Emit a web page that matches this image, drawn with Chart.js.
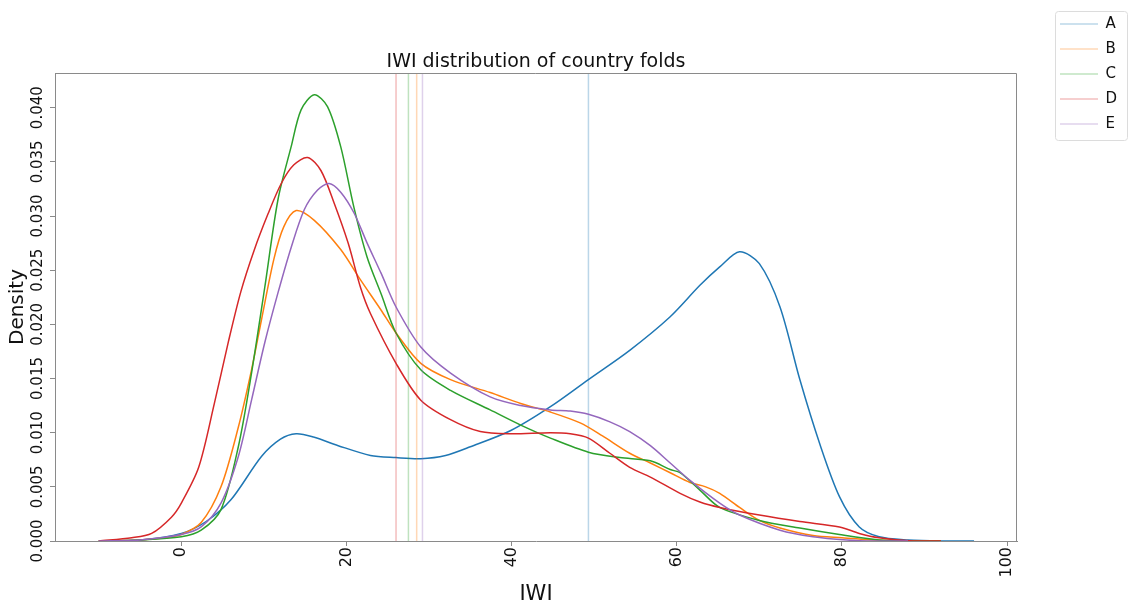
<!DOCTYPE html>
<html>
<head>
<meta charset="utf-8">
<title>IWI distribution of country folds</title>
<script src="https://cdn.jsdelivr.net/npm/chart.js@4.4.1/dist/chart.umd.min.js"></script>
<style>
  html, body { margin: 0; padding: 0; background: #fff; }
  canvas { display: block; }
</style>
</head>
<body>
<canvas id="kde" width="1129" height="605"></canvas>
<script>
// fold names + matplotlib tab10 colours
const foldNames = ["A", "B", "C", "D", "E"];
const foldColors = ["#1f77b4", "#ff7f0e", "#2ca02c", "#d62728", "#9467bd"];

// KDE curves (x = IWI, y = density)
const aX = [-10, -5, 0, 3, 6, 9.7, 12, 13.9, 16, 19, 22.9, 26, 29, 32, 35, 39.9, 44.7, 49.3, 54.3, 59.2, 62.8, 65.2, 67.6, 70, 72.5, 74.9, 77.3, 79.7, 82.1, 84.5, 88, 92, 96];
const aY = [0, 0.0001, 0.0007, 0.0018, 0.0038, 0.0078, 0.0094, 0.0099, 0.0096, 0.0088, 0.0079, 0.0077, 0.0076, 0.0079, 0.0087, 0.0102, 0.0124, 0.0149, 0.0176, 0.0207, 0.0236, 0.0253, 0.0267, 0.0256, 0.0216, 0.0149, 0.0090, 0.0041, 0.0013, 0.0004, 0.0001, 0, 0];

const bX = [-10, -5, -2, 0, 2.4, 4.8, 6.9, 8.5, 9.7, 11.2, 12.4, 13.9, 16.1, 19.3, 21.7, 24.2, 26, 29, 32.6, 37.4, 41.1, 44.7, 48.3, 51, 54.3, 56.8, 59.2, 61.6, 63.5, 65.2, 67.6, 70, 72.5, 76.5, 80, 84, 88, 92];
const bY = [0, 0.0001, 0.0003, 0.0006, 0.0017, 0.0050, 0.0105, 0.0158, 0.0204, 0.0260, 0.0290, 0.0305, 0.0296, 0.0269, 0.0241, 0.0213, 0.0192, 0.0164, 0.0149, 0.0137, 0.0127, 0.0119, 0.0109, 0.0097, 0.0081, 0.0072, 0.0063, 0.0054, 0.0050, 0.0044, 0.0031, 0.0019, 0.0012, 0.0005, 0.0003, 0.0001, 0, 0];

const cX = [-10, -5, 0, 2.4, 4.8, 6.9, 8.5, 10.1, 11.7, 13.3, 14.5, 16.1, 17.7, 19.3, 20.9, 22.5, 24.2, 26, 29, 32.6, 37.4, 41.1, 44.7, 49.3, 53.1, 56.8, 59.2, 60.4, 62.8, 65.2, 70, 74.9, 79.7, 84.5, 88, 92];
const cY = [0, 0.0001, 0.0004, 0.0010, 0.0029, 0.0087, 0.0155, 0.0234, 0.0315, 0.0364, 0.0398, 0.0412, 0.0401, 0.0364, 0.0308, 0.0262, 0.0228, 0.0192, 0.0158, 0.0139, 0.0121, 0.0107, 0.0095, 0.0082, 0.0077, 0.0074, 0.0066, 0.0063, 0.0047, 0.0031, 0.0019, 0.0012, 0.0006, 0.0001, 0, 0];

const dX = [-10, -6, -3.6, -1.2, 0, 2.1, 4.0, 5.7, 7.2, 8.8, 10.5, 12.1, 13.6, 15.3, 16.9, 18.5, 20.2, 21.7, 22.9, 26, 29, 32.6, 36.2, 39.9, 44.7, 47.1, 49.3, 51.9, 54.3, 56.8, 60.4, 62.8, 65.2, 70, 74.9, 79.7, 82.1, 84.5, 88.6, 92];
const dY = [0, 0.0003, 0.0007, 0.0022, 0.0035, 0.0068, 0.0127, 0.0184, 0.0230, 0.0268, 0.0302, 0.0330, 0.0347, 0.0354, 0.0342, 0.0312, 0.0275, 0.0234, 0.0210, 0.0164, 0.0130, 0.0112, 0.0101, 0.0099, 0.0100, 0.0099, 0.0095, 0.0081, 0.0068, 0.0059, 0.0044, 0.0036, 0.0031, 0.0024, 0.0018, 0.0013, 0.0007, 0.0003, 0, 0];

const eX = [-10, -5, 0, 2.4, 4.8, 6.9, 8.5, 10.1, 11.7, 13.3, 14.9, 16.5, 17.9, 19.3, 20.9, 22.5, 24.2, 26, 29, 32.6, 37.4, 41.1, 44.7, 47.1, 49.3, 51.9, 54.3, 56.8, 59.2, 61.6, 65.2, 67.6, 72.5, 76.5, 80.6, 84, 88];
const eY = [0, 0.0001, 0.0006, 0.0013, 0.0035, 0.0078, 0.0130, 0.0183, 0.0229, 0.0271, 0.0306, 0.0324, 0.0330, 0.0322, 0.0303, 0.0275, 0.0247, 0.0216, 0.0179, 0.0155, 0.0133, 0.0125, 0.0121, 0.0120, 0.0117, 0.0110, 0.0101, 0.0088, 0.0072, 0.0056, 0.0035, 0.0024, 0.0010, 0.0004, 0.0001, 0, 0];

// mean IWI per fold (the faint vertical lines)
const foldMeans = [49.3, 28.5, 27.5, 26.0, 29.2];

const xTicks = [0, 20, 40, 60, 80, 100];
const yTicks = [0, 0.005, 0.010, 0.015, 0.020, 0.025, 0.030, 0.035, 0.040];
const xRange = [-15.3, 101.2];
const yRange = [0, 0.0432];

const curveX = [aX, bX, cX, dX, eX];
const curveY = [aY, bY, cY, dY, eY];

function toPoints(xs, ys) {
    return xs.map((x, i) => ({ x: x, y: ys[i] }));
}

function fade(hex, a) {
    const n = parseInt(hex.slice(1), 16);
    return `rgba(${(n >> 16) & 255}, ${(n >> 8) & 255}, ${n & 255}, ${a})`;
}

const datasets = [];
foldNames.forEach((name, i) => {
    datasets.push({
        label: name + " kde",
        data: toPoints(curveX[i], curveY[i]),
        borderColor: foldColors[i],
        borderWidth: 1.5,
        showLine: true,
        pointRadius: 0,
        tension: 0.3,
        order: 20 - 2 * i
    });
    datasets.push({
        label: name,
        data: [{ x: foldMeans[i], y: yRange[0] }, { x: foldMeans[i], y: yRange[1] }],
        borderColor: fade(foldColors[i], 0.3),
        borderWidth: 1.5,
        showLine: true,
        pointRadius: 0,
        isMean: true,
        order: 19 - 2 * i
    });
});

// box round the plot (top + right spines)
const framePlugin = {
    id: "frame",
    afterDatasetsDraw(chart) {
        const { ctx, chartArea: a } = chart;
        ctx.save();
        ctx.strokeStyle = "#8a8a8a";
        ctx.lineWidth = 1;
        ctx.beginPath();
        ctx.moveTo(Math.round(a.left), Math.round(a.top) + 0.5);
        ctx.lineTo(Math.round(a.right) - 0.5, Math.round(a.top) + 0.5);
        ctx.lineTo(Math.round(a.right) - 0.5, Math.round(a.bottom));
        ctx.stroke();
        ctx.restore();
    }
};

// legend sits outside the axes, top right, with a light frame
const legendRoom = 112;
const legendPlugin = {
    id: "legendPlace",
    afterInit(chart) {
        const lg = chart.legend;
        const fit = lg.fit.bind(lg);
        lg.fit = function () { fit(); this.width = legendRoom; };
    },
    afterLayout(chart) {
        const lg = chart.legend;
        lg.left += 33; lg.right += 33;
        lg.top += 6.5; lg.bottom += 6.5;
    },
    afterDraw(chart) {
        const hb = chart.legend.legendHitBoxes;
        if (!hb || !hb.length) return;
        const first = hb[0], last = hb[hb.length - 1];
        const x0 = Math.round(first.left - 5) + 0.5;
        const y0 = Math.round(first.top - 5.5) + 0.5;
        const y1 = Math.round(last.top + last.height + 8.5) + 0.5;
        const ctx = chart.ctx;
        ctx.save();
        ctx.strokeStyle = "#dcdcdc";
        ctx.lineWidth = 1;
        ctx.beginPath();
        ctx.roundRect(x0, y0, chart.width - 1.5 - x0, y1 - y0, 3);
        ctx.stroke();
        ctx.restore();
    }
};

Chart.defaults.font.family = "'DejaVu Sans', sans-serif";
Chart.defaults.color = "#1a1a1a";

new Chart(document.getElementById("kde"), {
    type: "scatter",
    data: { datasets },
    options: {
        responsive: false,
        animation: false,
        layout: { padding: 0 },
        plugins: {
            title: {
                display: true,
                text: "IWI distribution of country folds",
                fullSize: false,
                color: "#111",
                font: { size: 19, weight: "normal", lineHeight: 1 },
                padding: { top: 52.5, bottom: 1.5 }
            },
            legend: {
                position: "right",
                align: "start",
                labels: {
                    filter: (item, data) => !!data.datasets[item.datasetIndex].isMean,
                    sort: (a, b) => a.datasetIndex - b.datasetIndex,
                    usePointStyle: true,
                    pointStyle: "line",
                    pointStyleWidth: 38,
                    padding: 10,
                    color: "#111",
                    font: { size: 15 }
                }
            },
            tooltip: { enabled: false }
        },
        scales: {
            x: {
                type: "linear",
                min: xRange[0],
                max: xRange[1],
                afterBuildTicks: s => { s.ticks = xTicks.map(v => ({ value: v })); },
                ticks: { minRotation: 90, maxRotation: 90, padding: 1, color: "#111", font: { size: 16 } },
                grid: { drawOnChartArea: false, tickLength: 5, color: "#8a8a8a" },
                border: { color: "#8a8a8a" },
                title: { display: true, text: "IWI", color: "#111", font: { size: 21, lineHeight: 1 }, padding: 0 },
                afterFit: s => { s.height = 64; }
            },
            y: {
                type: "linear",
                min: yRange[0],
                max: yRange[1],
                afterBuildTicks: s => { s.ticks = yTicks.map(v => ({ value: v })); },
                ticks: {
                    minRotation: 90, maxRotation: 90, crossAlign: "center", padding: -9.5,
                    color: "#111", font: { size: 15 },
                    callback: v => v.toFixed(3)
                },
                grid: { drawOnChartArea: false, tickLength: 5, color: "#8a8a8a" },
                border: { color: "#8a8a8a" },
                title: { display: true, text: "Density", color: "#111", font: { size: 20 }, padding: { top: 6, bottom: 0 } },
                afterFit: s => { s.width = 55; }
            }
        }
    },
    plugins: [framePlugin, legendPlugin]
});
</script>
</body>
</html>
